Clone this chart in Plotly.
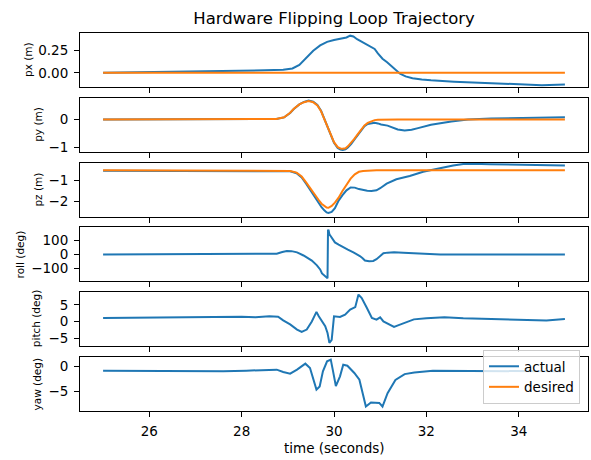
import plotly.graph_objects as go
from plotly.subplots import make_subplots

BLUE = "#1f77b4"
ORANGE = "#ff7f0e"

# ---------------- data ----------------
px_t = [25.0, 25.5, 26.0, 26.5, 27.0, 27.5, 28.0, 28.5, 28.9, 29.1, 29.25, 29.4, 29.55, 29.7,
        29.85, 30.0, 30.15, 30.27, 30.35, 30.42, 30.5, 30.6, 30.75, 30.88, 30.95, 31.05, 31.15,
        31.28, 31.43, 31.55, 31.7, 31.9, 32.1, 32.6, 33.0, 33.5, 34.0, 34.5, 35.0]
px_act = [0.0, 0.003, 0.008, 0.012, 0.016, 0.02, 0.023, 0.028, 0.035, 0.05, 0.09, 0.17, 0.25, 0.31,
          0.35, 0.37, 0.385, 0.40, 0.42, 0.41, 0.38, 0.35, 0.30, 0.27, 0.22, 0.16, 0.12,
          0.06, -0.01, -0.04, -0.06, -0.075, -0.085, -0.10, -0.11, -0.12, -0.13, -0.14, -0.133]
px_des_t = [25.0, 35.0]
px_des = [0.0, 0.0]

py_t = [25.0, 28.6, 28.75, 28.92, 29.05, 29.13, 29.25, 29.35, 29.45, 29.55, 29.64, 29.72, 29.79,
        29.86, 29.93, 30.0, 30.08, 30.14, 30.19, 30.25, 30.3, 30.37, 30.44, 30.52, 30.59, 30.66,
        30.73, 30.8, 30.88, 30.95, 31.02, 31.16, 31.38, 31.53, 31.68, 31.82, 32.1, 32.54, 32.9,
        33.4, 34.27, 35.0]
py_des = [0.0, 0.0, 0.02, 0.085, 0.25, 0.39, 0.55, 0.63, 0.67, 0.63, 0.51, 0.30, 0.02,
          -0.28, -0.58, -0.82, -1.0, -1.05, -1.06, -1.04, -0.97, -0.85, -0.70, -0.52, -0.34, -0.21,
          -0.12, -0.06, -0.02, -0.005, 0.0, 0.0, 0.0, 0.0, 0.0, 0.0, 0.0, 0.0, 0.0,
          0.0, 0.0, 0.0]
py_act = [0.0, 0.0, 0.02, 0.08, 0.24, 0.38, 0.55, 0.64, 0.69, 0.65, 0.53, 0.32, 0.04,
          -0.27, -0.58, -0.84, -1.03, -1.09, -1.10, -1.08, -1.01, -0.89, -0.73, -0.55, -0.37, -0.24,
          -0.16, -0.13, -0.12, -0.14, -0.18, -0.22, -0.36, -0.40, -0.37, -0.31, -0.19, -0.07, 0.0,
          0.04, 0.07, 0.08]

pz_t = [25.0, 28.9, 29.05, 29.19, 29.3, 29.4, 29.5, 29.58, 29.66, 29.73, 29.79, 29.84, 29.88,
        29.95, 30.02, 30.1, 30.18, 30.27, 30.36, 30.45, 30.54, 30.63, 30.72, 30.81, 30.92, 31.0,
        31.14, 31.35, 31.64, 31.93, 32.22, 32.58, 32.8, 33.0, 33.38, 34.25, 35.0]
pz_des = [-0.5, -0.5, -0.53, -0.61, -0.8, -1.09, -1.42, -1.65, -1.9, -2.1, -2.22, -2.29, -2.3,
          -2.21, -2.05, -1.81, -1.5, -1.17, -0.9, -0.69, -0.57, -0.53, -0.51, -0.5, -0.5, -0.5,
          -0.5, -0.5, -0.5, -0.5, -0.5, -0.5, -0.5, -0.5, -0.5, -0.5, -0.5]
pz_act = [-0.52, -0.52, -0.55, -0.64, -0.84, -1.15, -1.50, -1.78, -2.05, -2.27, -2.42, -2.52, -2.55,
          -2.50, -2.32, -1.95, -1.70, -1.46, -1.32, -1.33, -1.40, -1.45, -1.48, -1.49, -1.46, -1.36,
          -1.14, -0.93, -0.77, -0.57, -0.43, -0.27, -0.2, -0.18, -0.21, -0.24, -0.27]

roll_t = [25.0, 28.6, 28.76, 28.88, 28.98, 29.08, 29.2, 29.34, 29.45, 29.52, 29.63, 29.7, 29.74,
          29.8, 29.86, 29.87, 29.88, 29.9, 29.95, 30.02, 30.1, 30.2, 30.3, 30.42, 30.5, 30.56,
          30.62, 30.67, 30.76, 30.85, 30.92, 31.0, 31.07, 31.16, 31.3, 31.5, 31.7, 32.0, 32.3,
          33.0, 34.0, 35.0]
roll_act = [0, 0, 5, 18, 25, 24, 15, -8, -28, -45, -80, -110, -140,
            -158, -175, 175, 182, 148, 120, 88, 72, 52, 35, 15, 3, -12,
            -28, -45, -50, -48, -35, -8, 8, 13, 15, 12, 8, 2, 0,
            0, 0, 0]

pitch_t = [25.0, 25.5, 26.0, 26.5, 27.0, 27.5, 28.0, 28.3, 28.6, 28.79, 28.9, 29.05, 29.2, 29.3,
           29.41, 29.52, 29.58, 29.62, 29.67, 29.74, 29.81, 29.86, 29.9, 29.95, 29.98, 30.0, 30.13,
           30.24, 30.35, 30.46, 30.53, 30.6, 30.71, 30.82, 30.92, 31.0, 31.07, 31.2, 31.3, 31.4,
           31.55, 31.73, 32.0, 32.39, 32.8, 33.37, 33.8, 34.18, 34.6, 35.0]
pitch_act = [1.1, 1.2, 1.3, 1.2, 1.4, 1.4, 1.5, 1.3, 1.6, 1.5, 0.4, -0.8, -2.3, -3.0,
             -2.3, 0.1, 1.8, 2.9, 1.6, 0.1, -1.3, -3.3, -6.2, -5.3, 0.6, 1.6, 1.4,
             2.1, 3.6, 4.3, 8.0, 7.0, 4.1, 1.1, 0.6, 1.3, 0.1, -0.8, -1.5, -1.0,
             -0.3, 0.7, 1.0, 1.3, 1.0, 0.8, 0.7, 0.5, 0.4, 0.8]

yaw_t = [25.0, 26.0, 27.0, 27.6, 28.1, 28.46, 28.76, 28.9, 29.05, 29.2, 29.38, 29.48, 29.56, 29.62,
         29.69, 29.76, 29.85, 29.93, 29.98, 30.04, 30.13, 30.2, 30.29, 30.44, 30.55, 30.62, 30.69,
         30.8, 30.98, 31.05, 31.16, 31.33, 31.53, 31.74, 32.14, 32.96, 34.0, 35.0]
yaw_act = [-0.9, -0.95, -1.0, -1.03, -0.9, -0.75, -0.7, -1.16, -1.48, -0.7, 0.48, -0.37, -2.66, -4.6,
           -3.97, -1.03, 0.93, 1.26, -1.03, -3.9, -2.0, 0.28, 0.08, -1.35, -2.66, -5.6, -7.9,
           -7.1, -7.2, -7.9, -5.3, -2.7, -1.56, -1.23, -0.9, -0.97, -1.0, -1.0]

x_ticks = [26, 28, 30, 32, 34]
y_labels = ["px (m)", "py (m)", "pz (m)", "roll (deg)", "pitch (deg)", "yaw (deg)"]
y_ticks = [[0, 0.25], [-1, 0], [-2, -1], [-100, 0, 100], [-5, 0, 5], [-5, 0]]
y_ranges = [[-0.16, 0.45], [-1.17, 0.79], [-2.72, -0.13], [-198, 198], [-7.2, 8.7], [-8.78, 1.78]]
y_formats = [".2f", "d", "d", "d", "d", "d"]
ylabel_px = [28, 38, 38, 20, 36, 36.5]

# ---------------- figure ----------------
W, H = 591, 460
ML, MR, MT, MB = 80, 3, 33, 49
PW = W - ML - MR
PH = H - MT - MB
GAP = 10.8

fig = make_subplots(rows=6, cols=1, shared_xaxes=True, vertical_spacing=GAP / PH)

FONT = "DejaVu Sans"
LW = 2

series = [
    (px_t, px_act, px_des_t, px_des),
    (py_t, py_act, py_t, py_des),
    (pz_t, pz_act, pz_t, pz_des),
    (roll_t, roll_act, None, None),
    (pitch_t, pitch_act, None, None),
    (yaw_t, yaw_act, None, None),
]

for i, (ta, va, td, vd) in enumerate(series):
    r = i + 1
    fig.add_trace(go.Scatter(x=ta, y=va, mode="lines", name="actual",
                             line=dict(color=BLUE, width=LW),
                             showlegend=(i == 0)), row=r, col=1)
    if td is not None:
        fig.add_trace(go.Scatter(x=td, y=vd, mode="lines", name="desired",
                                 line=dict(color=ORANGE, width=LW),
                                 showlegend=(i == 0)), row=r, col=1)

axis_common = dict(showline=True, mirror=True, linecolor="black", linewidth=1,
                   ticks="outside", ticklen=5, tickwidth=1, tickcolor="black",
                   showgrid=False, zeroline=False,
                   tickfont=dict(family=FONT, size=13.5, color="black"))

for i in range(6):
    r = i + 1
    fig.update_xaxes(range=[24.5, 35.5], tickvals=x_ticks,
                     showticklabels=(r == 6), ticklabelstandoff=3,
                     **axis_common, row=r, col=1)
    fig.update_yaxes(range=y_ranges[i], tickvals=y_ticks[i], tickformat=y_formats[i],
                     ticklabelstandoff=3, **axis_common, row=r, col=1)

annotations = []
sub_h = (PH - 5 * GAP) / 6
for i, lab in enumerate(y_labels):
    top_px = MT + i * (sub_h + GAP)
    cy = top_px + sub_h / 2
    annotations.append(dict(text=lab, xref="paper", yref="paper",
                            x=(ylabel_px[i] - ML) / PW, y=1 - (cy - MT) / PH,
                            xanchor="center", yanchor="middle", textangle=-90,
                            showarrow=False, font=dict(family=FONT, size=10.5, color="black")))
annotations.append(dict(text="time (seconds)", xref="paper", yref="paper",
                        x=0.5, y=-(448 - (H - MB)) / PH, xanchor="center", yanchor="middle",
                        showarrow=False, font=dict(family=FONT, size=13.5, color="black")))

fig.update_layout(
    width=W, height=H,
    margin=dict(l=ML, r=MR, t=MT, b=MB),
    paper_bgcolor="white", plot_bgcolor="white",
    title=dict(text="Hardware Flipping Loop Trajectory", xref="paper", x=0.5, xanchor="center",
               yref="container", y=1 - 18 / H, yanchor="middle",
               font=dict(family=FONT, size=16.5, color="black")),
    annotations=annotations,
    legend=dict(x=(580 - ML) / PW, xanchor="right", y=(411 - 404) / PH, yanchor="bottom",
                bgcolor="rgba(255,255,255,0.8)", bordercolor="#cccccc", borderwidth=1,
                font=dict(family=FONT, size=13.5, color="black")),
    showlegend=True,
)

fig.write_html("out.html")
